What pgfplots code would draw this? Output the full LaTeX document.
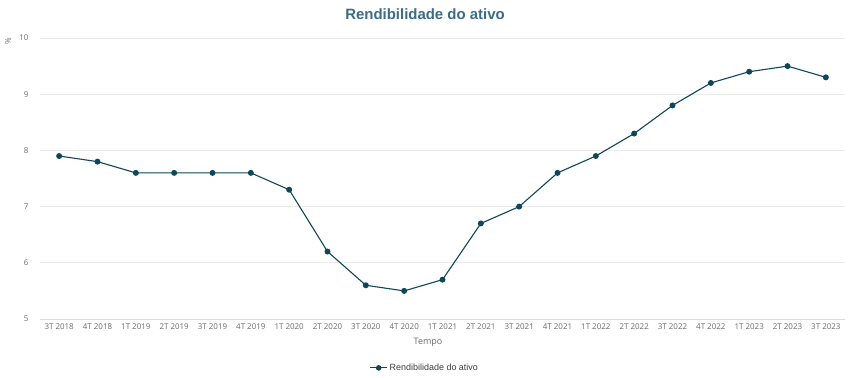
\documentclass[border=0pt]{standalone}
\usepackage{pgfplots}
\pgfplotsset{compat=1.18}
\usepackage{fontspec}
\setmainfont{Liberation Sans}
\newfontfamily\tickfont{Open Sans}
\definecolor{linec}{HTML}{0F4658}
\definecolor{titlec}{HTML}{3B6B86}
\definecolor{tickc}{HTML}{6A6A6A}
\definecolor{gridc}{HTML}{EBEBEB}
\definecolor{basec}{HTML}{D5DAE5}
\begin{document}
\begin{tikzpicture}[x=1bp,y=1bp]
\useasboundingbox (0,0) rectangle (850,377);
\begin{axis}[
  at={(40bp,58bp)}, anchor=south west,
  scale only axis, width=805bp, height=281bp,
  xmin=-0.5, xmax=20.5, ymin=5, ymax=10,
  xtick={0,...,20},
  xticklabels={3T 2018,4T 2018,1T 2019,2T 2019,3T 2019,4T 2019,1T 2020,2T 2020,3T 2020,4T 2020,1T 2021,2T 2021,3T 2021,4T 2021,1T 2022,2T 2022,3T 2022,4T 2022,1T 2023,2T 2023,3T 2023},
  ytick={5,6,7,8,9,10},
  ymajorgrids, grid style={gridc, line width=0.8bp},
  axis x line*=bottom, axis y line*=left,
  x axis line style={basec, line width=0.8bp, -},
  y axis line style={draw=none},
  major tick length=0pt,
  tick label style={font=\tickfont\fontsize{8}{9}\selectfont, text=tickc},
  /pgf/number format/assume math mode=true,
  xticklabel style={yshift=-1bp},
  yticklabel style={xshift=-8bp},
  legend style={at={(0.478,-0.174)}, anchor=center, draw=none, font=\fontsize{9}{11}\selectfont, text=tickc!60!black},
  legend image post style={mark size=2.2bp},
  clip=false,
]
\addplot[linec, line width=1.1bp, mark=*, mark size=2.4bp, mark options={fill=linec}] coordinates {
(0,7.9)(1,7.8)(2,7.6)(3,7.6)(4,7.6)(5,7.6)(6,7.3)(7,6.2)(8,5.6)(9,5.5)(10,5.7)(11,6.7)(12,7.0)(13,7.6)(14,7.9)(15,8.3)(16,8.8)(17,9.2)(18,9.4)(19,9.5)(20,9.3)};
\addlegendentry{Rendibilidade do ativo}
\end{axis}
\node[font=\bfseries\fontsize{15}{17}\selectfont, text=titlec] at (425,363) {Rendibilidade do ativo};
\node[font=\tickfont\fontsize{9}{11}\selectfont, text=tickc] at (428,35) {Tempo};
\node[font=\tickfont\fontsize{8}{9}\selectfont, text=tickc, rotate=90] at (8,336) {\%};
\end{tikzpicture}
\end{document}
